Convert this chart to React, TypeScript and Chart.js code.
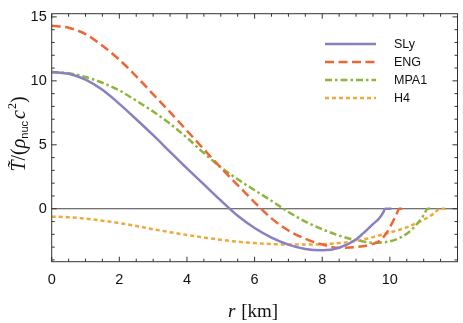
import React, { useEffect, useRef } from "react";
import { Chart, registerables } from "chart.js";
Chart.register(...registerables);

const X_TICKS = [0, 2, 4, 6, 8, 10];
const Y_TICKS = [0, 5, 10, 15];
const X_MIN = 0, X_MAX = 12, Y_MIN = -4.14, Y_MAX = 15.25;

const SERIES_NAMES = ["SLy", "ENG", "MPA1", "H4"];

const slyR = [0, 0.5, 1, 1.5, 2, 2.5, 3, 3.5, 4, 4.5, 5, 5.5, 6, 6.5, 7, 7.5, 8, 8.5, 9, 9.2, 9.5, 9.7, 9.8, 9.86, 10.05];
const slyT = [10.7, 10.55, 10.1, 9.3, 8.2, 7.0, 5.75, 4.45, 3.15, 1.9, 0.65, -0.55, -1.5, -2.25, -2.8, -3.15, -3.25, -3.05, -2.4, -1.95, -1.2, -0.7, -0.3, 0, 0];

const engR = [0, 0.5, 1, 1.5, 2, 2.5, 3, 3.5, 4, 4.5, 5, 5.5, 6, 6.5, 7, 7.5, 8, 8.5, 9, 9.5, 9.7, 9.9, 10.05, 10.2, 10.28, 10.4];
const engT = [14.3, 14.15, 13.65, 12.75, 11.65, 10.35, 8.95, 7.55, 6.1, 4.65, 3.2, 1.85, 0.5, -0.75, -1.7, -2.35, -2.8, -3.05, -3.0, -2.75, -2.5, -1.9, -1.2, -0.4, 0, 0];

const mpaR = [0, 0.5, 1, 1.5, 2, 2.5, 3, 3.5, 4, 4.5, 5, 5.5, 6, 6.5, 7, 7.5, 8, 8.5, 9, 9.5, 10, 10.5, 10.8, 11, 11.12, 11.25];
const mpaT = [10.7, 10.6, 10.3, 9.85, 9.25, 8.45, 7.6, 6.65, 5.55, 4.35, 3.25, 2.3, 1.45, 0.62, -0.25, -1.0, -1.6, -2.1, -2.45, -2.65, -2.55, -1.95, -1.2, -0.5, 0, 0];

const h4R = [0, 0.5, 1, 1.5, 2, 2.5, 3, 3.5, 4, 4.5, 5, 5.5, 6, 6.5, 7, 7.5, 8, 8.5, 9, 9.5, 10, 10.5, 11, 11.3, 11.49, 11.64];
const h4T = [-0.62, -0.66, -0.78, -0.93, -1.12, -1.35, -1.6, -1.83, -2.05, -2.25, -2.43, -2.58, -2.68, -2.76, -2.8, -2.8, -2.77, -2.68, -2.53, -2.22, -1.85, -1.45, -0.85, -0.38, 0, 0];

const COLORS = ["#8880c0", "#ee6633", "#8db53c", "#efa83a"];
const DASHES: number[][] = [[], [9, 4.5], [7, 3, 2.5, 3], [4, 3]];
const LINE_W = 2.5;

const toPts = (r: number[], t: number[]) => r.map((x, i) => ({ x, y: t[i] }));

const framePlugin = {
  id: "frame",
  beforeDatasetsDraw(chart: any) {
    const { ctx, chartArea: a, scales } = chart;
    const y0 = scales.y.getPixelForValue(0);
    ctx.save();
    ctx.strokeStyle = "#444";
    ctx.lineWidth = 1.2;
    ctx.beginPath();
    ctx.moveTo(a.left, y0);
    ctx.lineTo(a.right, y0);
    ctx.stroke();
    ctx.restore();
  },
  afterDraw(chart: any) {
    const { ctx, chartArea: a, scales } = chart;
    ctx.save();
    ctx.strokeStyle = "#333";
    ctx.lineWidth = 1;
    ctx.strokeRect(a.left, a.top, a.right - a.left, a.bottom - a.top);
    ctx.beginPath();
    for (let i = 0; i <= 24; i++) {
      const v = i * 0.5;
      const px = scales.x.getPixelForValue(v);
      const len = i % 4 === 0 ? 5 : 3;
      ctx.moveTo(px, a.bottom);
      ctx.lineTo(px, a.bottom - len);
      ctx.moveTo(px, a.top);
      ctx.lineTo(px, a.top + len);
    }
    for (let v = -4; v <= 15; v++) {
      const py = scales.y.getPixelForValue(v);
      const len = v % 5 === 0 ? 5 : 3;
      ctx.moveTo(a.left, py);
      ctx.lineTo(a.left + len, py);
      ctx.moveTo(a.right, py);
      ctx.lineTo(a.right - len, py);
    }
    ctx.stroke();

    // legend
    const rows = [44, 62, 80, 98];
    SERIES_NAMES.forEach((name, i) => {
      ctx.save();
      ctx.strokeStyle = COLORS[i];
      ctx.lineWidth = LINE_W;
      ctx.setLineDash(DASHES[i]);
      ctx.beginPath();
      ctx.moveTo(325, rows[i]);
      ctx.lineTo(376, rows[i]);
      ctx.stroke();
      ctx.restore();
      ctx.fillStyle = "#111";
      ctx.font = "12.5px 'Liberation Sans', Arial, sans-serif";
      ctx.textBaseline = "middle";
      ctx.textAlign = "left";
      ctx.fillText(name, 394, rows[i] + 0.5);
    });

    // x title
    ctx.fillStyle = "#111";
    ctx.textBaseline = "alphabetic";
    ctx.textAlign = "left";
    const fItal = "italic 19px 'Liberation Serif', serif";
    const fReg = "19px 'Liberation Serif', serif";
    ctx.font = fItal;
    const wr = ctx.measureText("r").width;
    ctx.font = fReg;
    const wk = ctx.measureText(" [km]").width;
    const cx = (a.left + a.right) / 2 - 2;
    const x0 = cx - (wr + wk) / 2;
    ctx.font = fItal;
    ctx.fillText("r", x0, 317);
    ctx.font = fReg;
    ctx.fillText(" [km]", x0 + wr + 1, 317);

    // y title (rotated)
    const parts: [string, string, number][] = [
      ["T\u0303", "italic 20px 'Liberation Serif', serif", 0],
      ["/(", "20px 'Liberation Serif', serif", 0],
      ["\u03C1", "italic 20px 'Liberation Serif', serif", 0],
      ["nuc", "11px 'Liberation Sans', sans-serif", 3],
      ["c", "italic 20px 'Liberation Serif', serif", 0],
      ["2", "12px 'Liberation Serif', serif", -9],
      [")", "20px 'Liberation Serif', serif", 0],
    ];
    let total = 0;
    const ws = parts.map(([t, f]) => {
      ctx.font = f;
      const w = ctx.measureText(t).width;
      total += w;
      return w;
    });
    total += 3;
    ctx.translate(25, 134);
    ctx.rotate(-Math.PI / 2);
    let xx = -total / 2;
    parts.forEach(([t, f, dy], i) => {
      ctx.font = f;
      ctx.fillText(t, xx, dy);
      xx += ws[i] + (i === 3 ? 2 : i === 4 ? 1 : 0);
    });
    ctx.restore();
  },
};

export default function App() {
  const ref = useRef<HTMLCanvasElement>(null);
  useEffect(() => {
    if (!ref.current) return;
    const seriesData = [toPts(slyR, slyT), toPts(engR, engT), toPts(mpaR, mpaT), toPts(h4R, h4T)];
    const chart = new Chart(ref.current, {
      type: "line",
      data: {
        datasets: SERIES_NAMES.map((name, i) => ({
          label: name,
          data: seriesData[i],
          borderColor: COLORS[i],
          borderWidth: LINE_W,
          borderDash: DASHES[i],
          pointRadius: 0,
          fill: false,
          cubicInterpolationMode: "monotone" as const,
        })),
      },
      options: {
        animation: false,
        responsive: false,
        layout: { padding: { top: 6.7, right: 5.5, left: 0, bottom: 0 } },
        plugins: { legend: { display: false }, tooltip: { enabled: false } },
        scales: {
          x: {
            type: "linear",
            min: X_MIN,
            max: X_MAX,
            afterBuildTicks: (s: any) => {
              s.ticks = X_TICKS.map((v) => ({ value: v }));
            },
            afterFit: (s: any) => {
              s.height = 61.3;
            },
            grid: { display: false, drawTicks: false },
            border: { display: false },
            ticks: {
              padding: 10,
              color: "#111",
              font: { family: "'Liberation Sans', Arial, sans-serif", size: 14.5 },
              maxRotation: 0,
            },
          },
          y: {
            type: "linear",
            min: Y_MIN,
            max: Y_MAX,
            afterBuildTicks: (s: any) => {
              s.ticks = Y_TICKS.map((v) => ({ value: v }));
            },
            afterFit: (s: any) => {
              s.width = 51.7;
            },
            grid: { display: false, drawTicks: false },
            border: { display: false },
            ticks: {
              padding: 5,
              color: "#111",
              font: { family: "'Liberation Sans', Arial, sans-serif", size: 14.5 },
            },
          },
        },
      },
      plugins: [framePlugin],
    });
    return () => chart.destroy();
  }, []);
  return (
    <div style={{ position: "absolute", left: 0, top: 0, width: 463, height: 323, background: "#fff" }}>
      <canvas ref={ref} width={463} height={323} />
    </div>
  );
}
